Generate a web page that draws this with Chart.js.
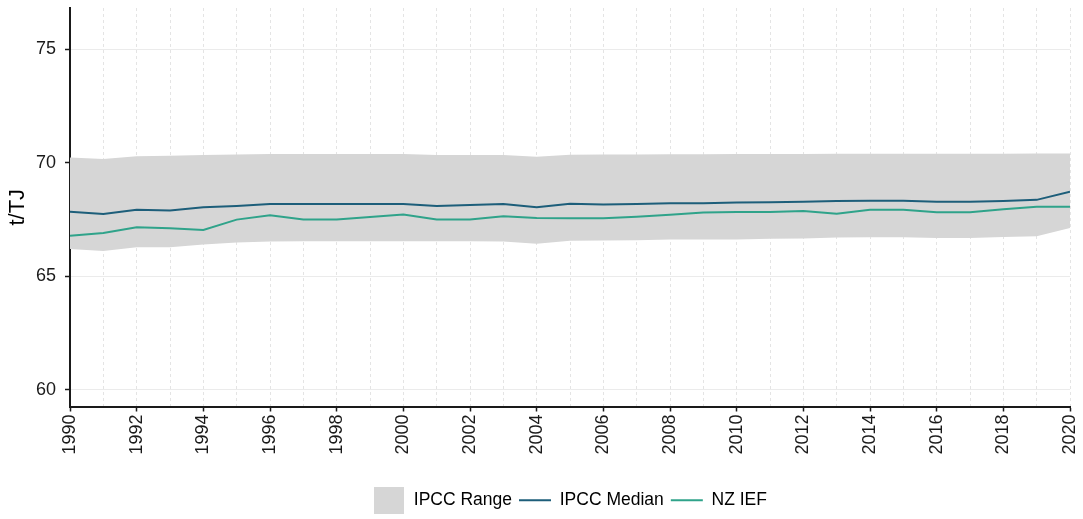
<!DOCTYPE html>
<html>
<head>
<meta charset="utf-8">
<script src="https://cdn.jsdelivr.net/npm/chart.js@4/dist/chart.umd.min.js"></script>
<style>
  html, body { margin: 0; padding: 0; background: #fff; }
  #wrap { width: 1083px; height: 519px; }
</style>
</head>
<body>
<div id="wrap"><canvas id="ief_chart"></canvas></div>
<script>
var years = [];
for (var yr = 1990; yr <= 2020; yr++) years.push(yr);

var ipccMedian = [67.84, 67.74, 67.93, 67.89, 68.03, 68.09, 68.18, 68.18, 68.18, 68.18, 68.18,
    68.09, 68.13, 68.18, 68.03, 68.19, 68.16, 68.18, 68.21, 68.21, 68.24,
    68.25, 68.28, 68.31, 68.32, 68.32, 68.28, 68.28, 68.31, 68.36, 68.72];
var nzIef = [66.78, 66.90, 67.15, 67.11, 67.03, 67.49, 67.68, 67.50, 67.50, 67.61, 67.72,
    67.50, 67.50, 67.64, 67.56, 67.55, 67.55, 67.62, 67.71, 67.80, 67.83,
    67.83, 67.87, 67.75, 67.93, 67.92, 67.82, 67.82, 67.95, 68.06, 68.06];
var rangeUpper = [70.23, 70.16, 70.28, 70.30, 70.34, 70.36, 70.38, 70.38, 70.38, 70.38, 70.38,
    70.34, 70.34, 70.34, 70.26, 70.35, 70.36, 70.36, 70.37, 70.37, 70.38,
    70.38, 70.38, 70.39, 70.39, 70.39, 70.39, 70.39, 70.39, 70.40, 70.40];
var rangeLower = [66.20, 66.11, 66.27, 66.27, 66.40, 66.48, 66.53, 66.54, 66.54, 66.54, 66.54,
    66.54, 66.54, 66.53, 66.43, 66.56, 66.57, 66.58, 66.61, 66.62, 66.62,
    66.65, 66.66, 66.70, 66.71, 66.71, 66.68, 66.68, 66.73, 66.76, 67.12];

var legendNames = ['IPCC Range', 'IPCC Median', 'NZ IEF'];
var rangeColor = '#d6d6d6';
var medianColor = '#1d5e7a';
var nzColor = '#2fa38a';

function pts(values) {
    return values.map(function (v, i) { return { x: years[i], y: v }; });
}

// grey swatch for the range entry of the legend
var swatch = document.createElement('canvas');
swatch.width = 30;
swatch.height = 27;
var sctx = swatch.getContext('2d');
sctx.fillStyle = rangeColor;
sctx.fillRect(0, 0, 30, 27);

var ief_ctx = document.getElementById('ief_chart').getContext('2d');
var ief_chart = new Chart(ief_ctx, {
    type: 'line',
    data: {
        datasets: [{
            label: 'upper',
            data: pts(rangeUpper),
            borderWidth: 0,
            pointRadius: 0,
            backgroundColor: rangeColor,
            fill: '+1',
            tension: 0,
            order: 3
        }, {
            label: 'lower',
            data: pts(rangeLower),
            borderWidth: 0,
            pointRadius: 0,
            fill: false,
            order: 4
        }, {
            label: legendNames[1],
            data: pts(ipccMedian),
            borderColor: medianColor,
            borderWidth: 2,
            pointRadius: 0,
            fill: false,
            order: 2
        }, {
            label: legendNames[2],
            data: pts(nzIef),
            borderColor: nzColor,
            borderWidth: 2,
            pointRadius: 0,
            fill: false,
            order: 1
        }]
    },
    options: {
        responsive: true,
        maintainAspectRatio: false,
        animation: false,
        layout: { padding: { top: 8, right: 13, left: 0, bottom: 0 } },
        plugins: {
            tooltip: { enabled: false },
            legend: {
                position: 'bottom',
                fullSize: false,
                labels: {
                    usePointStyle: true,
                    pointStyleWidth: 32,
                    padding: 7,
                    color: '#1a1a1a',
                    font: { family: 'Liberation Sans', size: 17.5 },
                    generateLabels: function () {
                        return [
                            { text: legendNames[0], pointStyle: swatch, fillStyle: rangeColor, strokeStyle: rangeColor, lineWidth: 0, hidden: false, datasetIndex: 0 },
                            { text: legendNames[1], pointStyle: 'line', fillStyle: medianColor, strokeStyle: medianColor, lineWidth: 2, hidden: false, datasetIndex: 2 },
                            { text: legendNames[2], pointStyle: 'line', fillStyle: nzColor, strokeStyle: nzColor, lineWidth: 2, hidden: false, datasetIndex: 3 }
                        ];
                    }
                }
            }
        },
        scales: {
            x: {
                type: 'linear',
                min: 1990,
                max: 2020,
                afterFit: function (scale) {
                    scale.height = 78;
                    scale.paddingLeft = 0;
                    scale.paddingRight = 0;
                },
                grid: {
                    color: '#e4e4e4',
                    lineWidth: 1,
                    tickLength: 5,
                    tickWidth: 1.5,
                    tickColor: function (c) { return c.tick && c.tick.value % 2 === 0 ? '#1a1a1a' : 'rgba(0,0,0,0)'; }
                },
                border: { color: '#1a1a1a', width: 2, dash: [3, 3] },
                ticks: {
                    stepSize: 1,
                    maxTicksLimit: 40,
                    autoSkip: false,
                    minRotation: 90,
                    maxRotation: 90,
                    padding: 3,
                    color: '#1a1a1a',
                    font: { family: 'Liberation Sans', size: 18 },
                    callback: function (v) { return v % 2 === 0 ? String(v) : ''; }
                }
            },
            y: {
                min: 59.26,
                max: 76.81,
                afterFit: function (scale) {
                    scale.width = 70;
                    scale.paddingTop = 0;
                    scale.paddingBottom = 0;
                },
                grid: {
                    color: '#ebebeb',
                    lineWidth: 1,
                    tickLength: 5,
                    tickWidth: 1.5,
                    tickColor: '#1a1a1a'
                },
                border: { color: '#1a1a1a', width: 2 },
                ticks: {
                    stepSize: 5,
                    includeBounds: false,
                    padding: 9,
                    color: '#1a1a1a',
                    font: { family: 'Liberation Sans', size: 18 }
                },
                title: {
                    display: true,
                    text: 't/TJ',
                    color: '#000',
                    padding: { top: 5, bottom: 0 },
                    font: { family: 'Liberation Sans', size: 22 }
                }
            }
        }
    }
});
</script>
</body>
</html>
